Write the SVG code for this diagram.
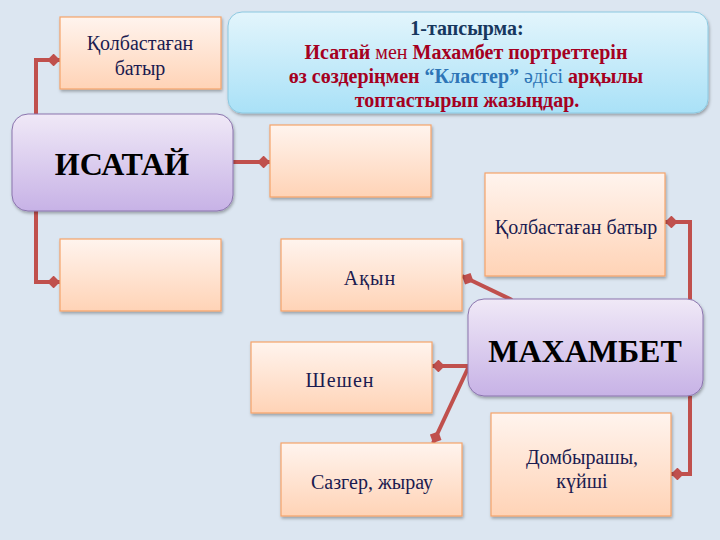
<svg xmlns="http://www.w3.org/2000/svg" width="720" height="540" viewBox="0 0 720 540">
<defs>
<linearGradient id="gBox" x1="0" y1="0" x2="0" y2="1"><stop offset="0" stop-color="#fff4ee"/><stop offset="1" stop-color="#ffd3b6"/></linearGradient>
<linearGradient id="gMain" x1="0" y1="0" x2="0" y2="1"><stop offset="0" stop-color="#f0e9f7"/><stop offset="1" stop-color="#c7b2e6"/></linearGradient>
<linearGradient id="gTitle" x1="0" y1="0" x2="0" y2="1"><stop offset="0" stop-color="#e3f5fc"/><stop offset="1" stop-color="#a9e1f7"/></linearGradient>
<filter id="sh" x="-10%" y="-10%" width="125%" height="130%"><feDropShadow dx="1" dy="2" stdDeviation="1.5" flood-color="#000" flood-opacity="0.3"/></filter>
<marker id="dia" viewBox="0 0 10 10" refX="10" refY="5" markerWidth="3.2" markerHeight="3.2" orient="auto" markerUnits="strokeWidth"><path d="M0,5 L5,0 L10,5 L5,10 Z" fill="#c0504d"/></marker>
<style>
.box{fill:url(#gBox);stroke:#f5a36a;stroke-width:1.2;filter:url(#sh)}
.main{fill:url(#gMain);stroke:#8a74ad;stroke-width:1;filter:url(#sh)}
.t{font-family:"Liberation Serif","DejaVu Serif","Times New Roman",serif;font-size:20px;fill:#1b1b50;text-anchor:middle}
.big{font-family:"Liberation Serif","DejaVu Serif","Times New Roman",serif;font-size:32px;font-weight:bold;fill:#000;text-anchor:middle}
.ti{font-family:"Liberation Serif","DejaVu Serif","Times New Roman",serif;font-size:20px;font-weight:bold;text-anchor:middle}
.c{fill:none;stroke:#c0504d;stroke-width:4;marker-end:url(#dia)}
</style>
</defs>
<rect width="720" height="540" fill="#dce6f1"/>
<g id="title">
<rect x="228" y="12" width="480" height="101" rx="14" fill="url(#gTitle)" stroke="#8cc8e0" stroke-width="1" filter="url(#sh)"/>
<text class="ti" x="467" y="35" fill="#17375e">1-тапсырма:</text>
<text class="ti" x="466" y="59" fill="#a50021">Исатай <tspan font-weight="normal">мен</tspan> Махамбет портреттерін</text>
<text class="ti" x="466" y="83" fill="#a50021">өз сөздеріңмен <tspan fill="#2e75b6">“Кластер” <tspan font-weight="normal">әдісі</tspan></tspan> арқылы</text>
<text class="ti" x="467" y="107" fill="#a50021">топтастырып жазыңдар.</text>
</g>
<g id="connectors">
<path class="c" d="M36,114 V60 H60"/>
<path class="c" d="M233,162 H270"/>
<path class="c" d="M36,211 V282 H60"/>
<path class="c" d="M512,300 L462,276"/>
<path class="c" d="M690,300 V222 H665"/>
<path class="c" d="M469,366 H432"/>
<path class="c" d="M469,366 L433,443"/>
<path class="c" d="M690,396 V474 H671"/>
</g>
<g id="n1"><rect class="box" x="60" y="17" width="161" height="72"/><text class="t" x="140" y="50">Қолбастаған</text><text class="t" x="140" y="75">батыр</text></g>
<g id="isatay"><rect class="main" x="12" y="114" width="221" height="97" rx="16"/><text class="big" x="122" y="175" font-size="31">ИСАТАЙ</text></g>
<g id="n2"><rect class="box" x="270" y="125" width="161" height="72"/></g>
<g id="n3"><rect class="box" x="60" y="239" width="161" height="72"/></g>
<g id="n4"><rect class="box" x="485" y="173" width="180" height="103"/><text class="t" x="576" y="234">Қолбастаған батыр</text></g>
<g id="n5"><rect class="box" x="281" y="239" width="181" height="72"/><text class="t" x="370" y="285" letter-spacing="1">Ақын</text></g>
<g id="mahambet"><rect class="main" x="468" y="299" width="235" height="97" rx="16"/><text class="big" x="585" y="362">МАХАМБЕТ</text></g>
<g id="n6"><rect class="box" x="251" y="342" width="181" height="71"/><text class="t" x="340" y="387" letter-spacing="1">Шешен</text></g>
<g id="n7"><rect class="box" x="281" y="443" width="181" height="73"/><text class="t" x="372" y="489">Сазгер, жырау</text></g>
<g id="n8"><rect class="box" x="491" y="413" width="180" height="103"/><text class="t" x="582" y="464">Домбырашы,</text><text class="t" x="582" y="488">күйші</text></g>
</svg>
